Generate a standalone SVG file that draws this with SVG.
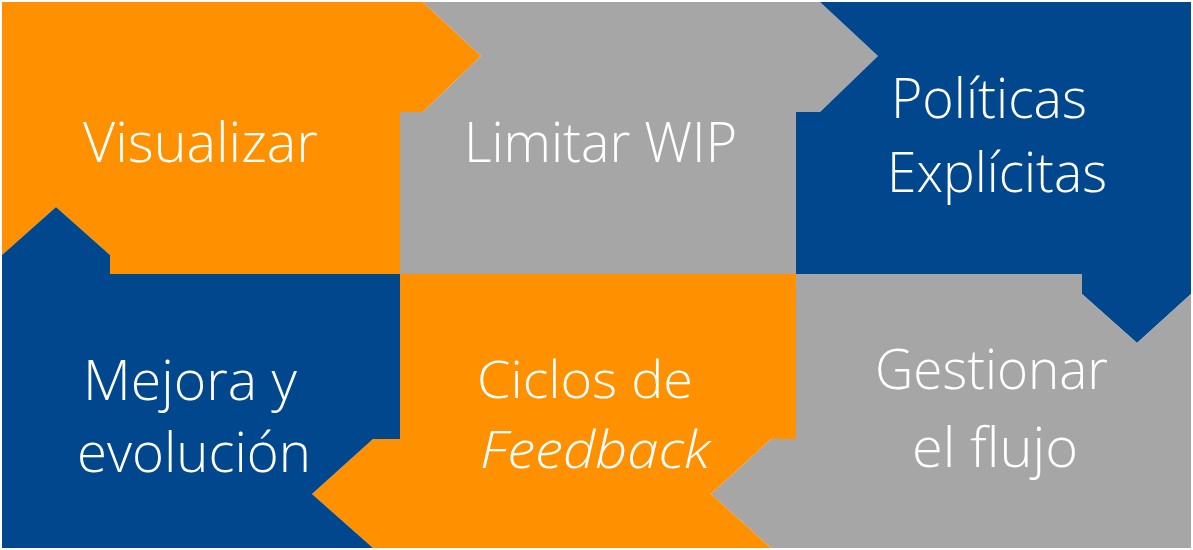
<svg xmlns="http://www.w3.org/2000/svg" width="1193" height="550" viewBox="0 0 1193 550">
<style>
.o{fill:#FF9000}.g{fill:#A6A6A6}.b{fill:#00478D}
text{fill:#FFFFFF;font-family:"Open Sans","Noto Sans","Liberation Sans",sans-serif;font-weight:300;font-size:55px}
.s{font-size:51px}
</style>
<rect width="1193" height="550" fill="#FFFFFF"/>
<g id="connectors"></g>
<g id="visualizar">
<polygon class="o" points="2,2 423,2 481,56 423,112 400,112 400,274 110,274 110,255 56,207 2,255"/>
<text x="83" y="162" textLength="235" lengthAdjust="spacingAndGlyphs">Visualizar</text>
</g>
<g id="limitar-wip">
<polygon class="g" points="423,2 820,2 878,56 820,112 796,112 796,274 400,274 400,112 423,112 481,56"/>
<text x="464" y="162" textLength="273" lengthAdjust="spacingAndGlyphs">Limitar WIP</text>
</g>
<g id="politicas">
<polygon class="b" points="820,2 1191,2 1191,294 1137,343 1082,294 1082,274 796,274 796,112 820,112 878,56"/>
<text x="891" y="118" textLength="196" lengthAdjust="spacingAndGlyphs">Políticas</text>
<text x="887" y="192" textLength="220" lengthAdjust="spacingAndGlyphs">Explícitas</text>
</g>
<g id="gestionar">
<polygon class="g" points="796,274 1082,274 1082,294 1137,343 1191,294 1191,548 771,548 711,494 771,439 796,439"/>
<text x="875" y="389" textLength="233" lengthAdjust="spacingAndGlyphs">Gestionar</text>
<text x="912" y="467" textLength="166" lengthAdjust="spacingAndGlyphs">el flujo</text>
</g>
<g id="ciclos">
<polygon class="o" points="400,274 796,274 796,439 771,439 711,494 771,548 373,548 312,494 373,439 400,439"/>
<text class="s" x="477" y="398" textLength="216" lengthAdjust="spacingAndGlyphs">Ciclos de</text>
<text class="s" x="480" y="468" textLength="230" lengthAdjust="spacingAndGlyphs" font-style="italic">Feedback</text>
</g>
<g id="mejora">
<polygon class="b" points="2,255 56,207 110,255 110,274 400,274 400,439 373,439 312,494 373,548 2,548"/>
<text x="83" y="400" textLength="214" lengthAdjust="spacingAndGlyphs">Mejora y</text>
<text x="77" y="472" textLength="234" lengthAdjust="spacingAndGlyphs">evolución</text>
</g>
</svg>
